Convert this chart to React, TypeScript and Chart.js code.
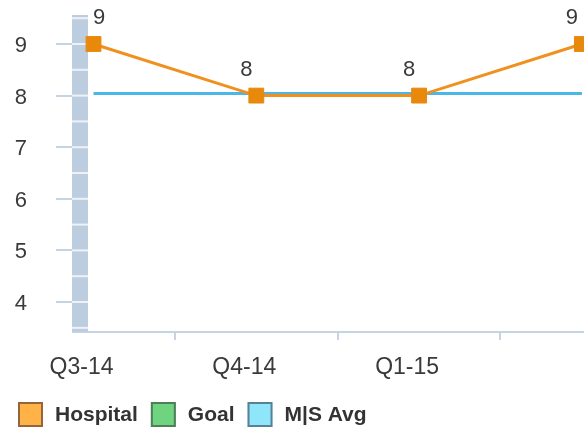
import React, { useEffect, useRef } from 'react';
import { Chart, registerables } from 'chart.js';

Chart.register(...registerables);

// ---- data ----
const categories = ['Q3-14', 'Q4-14', 'Q1-15', 'Q2-15'];
const hospitalValues = [9, 8, 8, 9];
const goalValues: (number | null)[] = [null, null, null, null];
const avgValues = [8.04, 8.04, 8.04, 8.04];
const yTickValues = [4, 5, 6, 7, 8, 9];
const seriesNames = ['Hospital', 'Goal', 'M|S Avg'];

const FONT = '"Liberation Sans", Arial, Helvetica, sans-serif';
const TEXT = '#3a3a3a';
const AXIS = '#c6d3e3';
const WALL_W = 15;

const legendColors = [
  { fill: '#ffb347', stroke: 'rgba(90,60,55,0.65)' },
  { fill: '#6fd47f', stroke: 'rgba(60,80,70,0.65)' },
  { fill: '#8fe6fb', stroke: 'rgba(60,75,95,0.65)' },
];

const wallPlugin = {
  id: 'wall',
  beforeDatasetsDraw(chart: any) {
    const { ctx, chartArea } = chart;
    const ys = chart.scales.y;
    const { left, top, bottom } = chartArea;
    ctx.save();
    ctx.fillStyle = '#bccde0';
    ctx.fillRect(left - 1, top, WALL_W + 1, bottom - top);
    ctx.strokeStyle = '#eef2f8';
    ctx.lineWidth = 2;
    for (let v = Math.ceil(ys.min * 2) / 2; v <= ys.max; v += 0.5) {
      const py = ys.getPixelForValue(v);
      ctx.beginPath();
      ctx.moveTo(left - 1, py);
      ctx.lineTo(left + WALL_W, py);
      ctx.stroke();
    }
    ctx.restore();
  },
};

const dataLabelPlugin = {
  id: 'dataLabels',
  afterDatasetsDraw(chart: any) {
    const { ctx, chartArea } = chart;
    const meta = chart.getDatasetMeta(0);
    const ds = chart.data.datasets[0];
    ctx.save();
    ctx.font = `22px ${FONT}`;
    ctx.fillStyle = TEXT;
    ctx.textAlign = 'center';
    ctx.textBaseline = 'middle';
    meta.data.forEach((pt: any, i: number) => {
      const d = ds.data[i];
      const txt = String(typeof d === 'object' && d ? d.y : d);
      const w = ctx.measureText(txt).width;
      const minX = chartArea.left + WALL_W + 5 + w / 2;
      const x = Math.max(pt.x - 10, minX);
      ctx.fillText(txt, x, pt.y - 26);
    });
    ctx.restore();
  },
};

const legendPlugin = {
  id: 'customLegend',
  afterDraw(chart: any) {
    const { ctx } = chart;
    const box = 25;
    const yTop = chart.height - 28;
    let x = 18;
    ctx.save();
    ctx.font = `bold 21px ${FONT}`;
    ctx.textBaseline = 'middle';
    ctx.textAlign = 'left';
    chart.data.datasets.forEach((ds: any, i: number) => {
      const c = legendColors[i];
      ctx.fillStyle = c.fill;
      ctx.fillRect(x, yTop, box, box);
      ctx.strokeStyle = c.stroke;
      ctx.lineWidth = 2;
      ctx.strokeRect(x + 1, yTop + 1, box - 2, box - 2);
      ctx.fillStyle = '#333333';
      ctx.fillText(ds.label, x + box + 12, yTop + box / 2 + 1);
      x += box + 12 + ctx.measureText(ds.label).width + 13;
    });
    ctx.restore();
  },
};

export default function App() {
  const ref = useRef<HTMLCanvasElement | null>(null);

  useEffect(() => {
    if (!ref.current) return;
    const xMin = -0.126;
    const xMax = 3.013;
    const xTicks = categories.flatMap((_, i) =>
      i < categories.length - 1 ? [i, i + 0.5] : [i]
    );
    const chart = new Chart(ref.current, {
      type: 'line',
      data: {
        datasets: [
          {
            label: seriesNames[0],
            data: hospitalValues.map((v, i) => ({ x: i, y: v })),
            borderColor: '#f0911f',
            borderWidth: 3,
            pointStyle: 'rect',
            pointRadius: 10.5,
            pointBackgroundColor: '#e8890c',
            pointBorderColor: '#e8890c',
            pointBorderWidth: 1,
            tension: 0,
            clip: false,
          },
          {
            label: seriesNames[1],
            data: goalValues.map((v, i) => ({ x: i, y: v })),
            borderColor: '#5cc96d',
            borderWidth: 3,
            pointRadius: 0,
            clip: false,
          },
          {
            label: seriesNames[2],
            data: avgValues.map((v, i) => ({ x: i, y: v })),
            borderColor: '#4ab7e7',
            borderWidth: 3,
            pointRadius: 0,
            tension: 0,
            clip: false,
          },
        ] as any,
      },
      options: {
        animation: false,
        responsive: false,
        devicePixelRatio: 1,
        events: [],
        layout: { autoPadding: false, padding: { top: 15, bottom: 48, left: 4, right: 0 } },
        plugins: {
          legend: { display: false },
          tooltip: { enabled: false },
          title: { display: false },
        },
        scales: {
          x: {
            type: 'linear',
            min: xMin,
            max: xMax,
            afterBuildTicks: (s: any) => {
              s.ticks = xTicks.map((v) => ({ value: v }));
            },
            afterFit: (s: any) => {
              s.height = 50;
              s.paddingLeft = 0;
              s.paddingRight = 0;
            },
            ticks: {
              autoSkip: false,
              maxRotation: 0,
              padding: 14,
              labelOffset: -12,
              color: TEXT,
              font: { size: 23, family: FONT },
              callback: (v: any) =>
                Number.isInteger(v) && v <= xMax - 0.2 ? categories[v] : '',
            },
            grid: {
              drawOnChartArea: false,
              tickLength: 8,
              lineWidth: 2,
              tickColor: (c: any) =>
                c.tick && Number.isInteger(c.tick.value) ? 'rgba(0,0,0,0)' : AXIS,
            },
            border: { color: AXIS, width: 2 },
          },
          y: {
            min: 3.419,
            max: 9.562,
            afterBuildTicks: (s: any) => {
              s.ticks = yTickValues.map((v) => ({ value: v }));
            },
            afterFit: (s: any) => {
              s.width = 69;
              s.paddingTop = 0;
              s.paddingBottom = 0;
            },
            ticks: {
              padding: 29,
              labelOffset: 2,
              color: TEXT,
              font: { size: 22, family: FONT },
            },
            grid: {
              drawOnChartArea: false,
              tickLength: 17,
              lineWidth: 2,
              tickColor: AXIS,
            },
            border: { display: false },
          },
        },
      } as any,
      plugins: [wallPlugin, dataLabelPlugin, legendPlugin],
    });
    return () => chart.destroy();
  }, []);

  return (
    <div style={{ position: 'absolute', left: 0, top: 0, width: 584, height: 430, overflow: 'hidden', background: '#fff' }}>
      <canvas ref={ref} width={584} height={430} style={{ width: 584, height: 430, display: 'block' }} />
    </div>
  );
}
